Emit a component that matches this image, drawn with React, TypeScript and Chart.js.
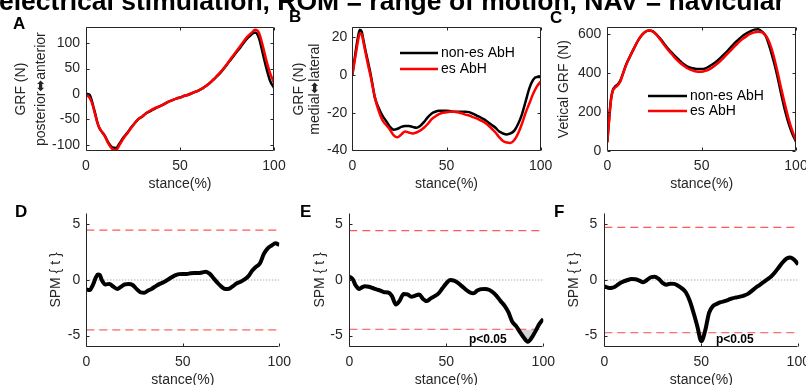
import React, { useEffect, useRef } from "react";
import { Chart, registerables } from "chart.js";

Chart.register(...registerables);

// ---------- data ----------
const STANCE = [0, 1, 2, 3, 4, 5, 6, 7, 8, 10, 12, 14, 16, 18, 20, 22, 24, 26, 28, 30, 32, 34, 36, 38, 40, 42, 44, 46, 48, 50, 52, 54, 56, 58, 60, 62, 64, 66, 68, 70, 72, 74, 76, 78, 80, 82, 84, 86, 88, 90, 92, 94, 96, 98, 100];

const SERIES_LABELS = ["non-es AbH", "es AbH"];

const A_NON_ES = [0, 0, -2, -12, -26, -40, -55, -66, -72, -82, -96, -105, -106, -96, -85, -76, -66, -57, -49, -44, -38, -34, -30, -26, -23, -19, -15, -12, -9, -7, -4, -2, 1, 4, 7, 11, 16, 22, 29, 36, 44, 53, 63, 72, 82, 91, 101, 110, 117, 121, 110, 80, 50, 25, 12];
const A_ES = [-2, -4, -8, -16, -28, -42, -56, -66, -72, -83, -98, -108, -110, -99, -87, -77, -67, -57, -49, -44, -38, -33, -29, -26, -23, -19, -15, -12, -9, -7, -4, -2, 1, 4, 7, 11, 16, 22, 29, 37, 45, 54, 64, 74, 84, 94, 104, 113, 120, 126, 120, 95, 65, 40, 22];

const B_NON_ES = [0, 7, 14, 20, 24, 23, 18, 13, 8.5, -1, -12, -17.5, -21.5, -24.5, -27.5, -29, -28.5, -27.5, -27, -27, -27.5, -28, -27, -25, -22.5, -20.5, -19.5, -19, -19, -19, -19.2, -19.5, -19.5, -19.5, -19.5, -19.7, -20.5, -21.5, -22.5, -23.5, -25, -26.5, -28, -30, -31, -31.5, -31, -29.5, -26, -21, -14, -7, -2.5, -1, -1];
const B_ES = [0, 6, 12, 18, 22, 21.5, 17, 12, 7, -2, -12, -19, -24, -26.5, -29, -32, -33, -31.5, -30, -30.5, -31, -30.5, -29.5, -28, -26, -23.5, -22, -20.8, -20, -19.8, -19.5, -19.5, -19.8, -20.3, -21, -21.5, -22.3, -23, -24, -25, -26.5, -28.5, -30.5, -33, -35, -35.8, -36, -34.5, -31, -26, -20, -15, -10, -6, -3.5];

const C_NON_ES = [45, 170, 270, 315, 330, 338, 348, 365, 390, 445, 486, 525, 563, 593, 612, 620, 616, 600, 578, 553, 528, 507, 487, 468, 450, 437, 429, 424, 421, 421, 425, 435, 447, 461, 479, 498, 518, 539, 560, 577, 594, 606, 616, 624, 626, 614, 590, 536, 468, 390, 300, 215, 145, 90, 48];
const C_ES = [45, 165, 265, 310, 325, 333, 343, 360, 388, 443, 486, 525, 563, 593, 612, 619, 615, 598, 574, 547, 522, 500, 478, 459, 442, 428, 418, 411, 408, 408, 412, 420, 432, 447, 464, 483, 503, 523, 543, 562, 578, 592, 603, 610, 613, 610, 594, 556, 495, 415, 328, 245, 168, 105, 55];

const D_SPM = [-0.85, -0.9, -0.88, -0.6, -0.2, 0.25, 0.5, 0.45, 0.0, -0.4, -0.35, -0.6, -0.8, -0.6, -0.4, -0.35, -0.45, -0.8, -1.1, -1.15, -0.95, -0.78, -0.55, -0.35, -0.2, 0.0, 0.22, 0.42, 0.53, 0.55, 0.55, 0.6, 0.62, 0.62, 0.68, 0.75, 0.55, 0.15, -0.25, -0.6, -0.8, -0.78, -0.55, -0.3, -0.15, 0.05, 0.35, 0.85, 1.2, 1.5, 2.35, 2.85, 3.1, 3.3, 3.15];
const E_SPM = [0.3, 0.2, 0.0, -0.4, -0.65, -0.8, -0.72, -0.62, -0.57, -0.6, -0.72, -0.85, -0.95, -1.1, -1.12, -1.45, -2.2, -1.85, -1.25, -1.3, -1.5, -1.4, -1.3, -1.7, -1.9, -1.65, -1.45, -1.2, -0.75, -0.3, 0.0, -0.05, -0.25, -0.55, -0.85, -1.1, -1.2, -0.95, -0.82, -0.8, -0.88, -1.1, -1.45, -1.9, -2.3, -2.9, -3.75, -4.15, -4.7, -5.2, -5.55, -5.2, -4.6, -3.95, -3.5];
const F_SPM = [-0.57, -0.65, -0.7, -0.72, -0.7, -0.65, -0.55, -0.42, -0.3, -0.12, 0.0, 0.08, 0.07, -0.05, -0.2, 0.0, 0.25, 0.3, 0.1, -0.25, -0.42, -0.33, -0.35, -0.52, -0.75, -1.1, -1.85, -2.95, -4.2, -5.5, -4.55, -2.95, -2.35, -2.15, -2.0, -1.9, -1.78, -1.65, -1.57, -1.5, -1.4, -1.25, -0.98, -0.7, -0.45, -0.2, 0.05, 0.32, 0.7, 1.15, 1.6, 1.93, 2.03, 1.8, 1.4];

const X_TICKS = [0, 50, 100];
const A_Y_TICKS = [-100, -50, 0, 50, 100];
const B_Y_TICKS = [-40, -20, 0, 20];
const C_Y_TICKS = [0, 200, 400, 600];
const SPM_Y_TICKS = [-5, 0, 5];

const D_THRESHOLD = 4.48;
const E_THRESHOLD = 4.45;
const F_THRESHOLD = 4.73;

const FIGURE_TITLE = "electrical stimulation, ROM = range of motion, NAV = navicular";
const SIG_TEXT = "p<0.05";

// ---------- style ----------
const W = 806;
const H = 400;
const FONT = "'Liberation Sans', Arial, Helvetica, 'DejaVu Sans', sans-serif";
const TEXT = "#262626";
const RED = "#ff0000";
const THR_COLOR = "rgba(255,70,70,0.9)";

type Panel = {
  key: string;
  series: number[][];
  yMin: number;
  yMax: number;
  yTicks: number[];
  yTitle: string | string[];
  titleLH: number;
  area: [number, number, number, number];
  yw: number;
  xh: number;
  yPad: number;
  xPad: number;
  box: boolean;
  legend?: { x: number; y: number; len: number; gap: number };
  threshold?: number;
  sig?: { x: number; y: number };
};

const PANELS: Panel[] = [
  { key: "A", series: [A_NON_ES, A_ES], yMin: -112, yMax: 131, yTicks: A_Y_TICKS, yTitle: ["GRF (N)", "posterior\u2B0Canterior"], titleLH: 1.39, area: [86, 27.3, 274, 151], yw: 74.5, xh: 41.4, yPad: 6, xPad: 7, box: true },
  { key: "B", series: [B_NON_ES, B_ES], yMin: -40.3, yMax: 25.3, yTicks: B_Y_TICKS, yTitle: ["GRF (N)", "medial\u2B0Clateral"], titleLH: 1.16, area: [352.3, 27.3, 540.7, 151], yw: 61.7, xh: 41.4, yPad: 5, xPad: 7, box: true, legend: { x: 400, y: 53, len: 38, gap: 16 } },
  { key: "C", series: [C_NON_ES, C_ES], yMin: 0, yMax: 636, yTicks: C_Y_TICKS, yTitle: "Vetical GRF (N)", titleLH: 1.2, area: [607.3, 27.3, 796, 151], yw: 51.7, xh: 41.4, yPad: 6, xPad: 7, box: true, legend: { x: 648, y: 96, len: 39, gap: 15 } },
  { key: "D", series: [D_SPM], yMin: -6, yMax: 6, yTicks: SPM_Y_TICKS, yTitle: "SPM { t }", titleLH: 1.2, area: [86.3, 213.3, 279.3, 346.7], yw: 39, xh: 42.2, yPad: 6, xPad: 7, box: false, threshold: D_THRESHOLD },
  { key: "E", series: [E_SPM], yMin: -6, yMax: 6, yTicks: SPM_Y_TICKS, yTitle: "SPM { t }", titleLH: 1.2, area: [349.3, 213.3, 543.3, 346.7], yw: 37.7, xh: 42.2, yPad: 6.5, xPad: 7, box: false, threshold: E_THRESHOLD, sig: { x: 469, y: 340 } },
  { key: "F", series: [F_SPM], yMin: -6, yMax: 6, yTicks: SPM_Y_TICKS, yTitle: "SPM { t }", titleLH: 1.2, area: [604.3, 213.3, 798.3, 346.7], yw: 38.4, xh: 42.2, yPad: 7, xPad: 7, box: false, threshold: F_THRESHOLD, sig: { x: 716, y: 340 } },
];

const LETTERS = [
  { t: "A", x: 13, base: 29 },
  { t: "B", x: 289, base: 22 },
  { t: "C", x: 550, base: 23.5 },
  { t: "D", x: 15, base: 217 },
  { t: "E", x: 300, base: 217 },
  { t: "F", x: 554, base: 217 },
];

function toPoints(arr: number[]) {
  return STANCE.map((x, i) => ({ x, y: arr[i] }));
}

function decorPlugin(p: Panel) {
  return {
    id: "decor" + p.key,
    afterDraw(chart: any) {
      const { ctx, chartArea: a, scales } = chart;
      const xs = scales.x;
      const ys = scales.y;
      ctx.save();
      ctx.strokeStyle = TEXT;
      ctx.lineWidth = 1;
      const L = Math.round(a.left) + 0.5;
      const R = Math.round(a.right) - 0.5;
      const T = Math.round(a.top) + 0.5;
      const B = Math.round(a.bottom) - 0.5;
      ctx.beginPath();
      if (p.box) {
        ctx.rect(L, T, R - L, B - T);
      } else {
        ctx.moveTo(L, T);
        ctx.lineTo(L, B);
        ctx.lineTo(R, B);
      }
      ctx.stroke();
      // inward ticks
      const tl = 3;
      ctx.beginPath();
      X_TICKS.forEach((v) => {
        const px = Math.round(xs.getPixelForValue(v)) + 0.5;
        ctx.moveTo(px, B);
        ctx.lineTo(px, B - tl);
        if (p.box) {
          ctx.moveTo(px, T);
          ctx.lineTo(px, T + tl);
        }
      });
      p.yTicks.forEach((v) => {
        const py = Math.round(ys.getPixelForValue(v)) + 0.5;
        ctx.moveTo(L, py);
        ctx.lineTo(L + tl, py);
        if (p.box) {
          ctx.moveTo(R, py);
          ctx.lineTo(R - tl, py);
        }
      });
      ctx.stroke();
      // legend
      if (p.legend) {
        const lg = p.legend;
        const colors = ["#000000", RED];
        SERIES_LABELS.forEach((lab, i) => {
          const y = lg.y + i * lg.gap;
          ctx.strokeStyle = colors[i];
          ctx.lineWidth = 2.5;
          ctx.beginPath();
          ctx.moveTo(lg.x, y);
          ctx.lineTo(lg.x + lg.len, y);
          ctx.stroke();
          ctx.fillStyle = "#000";
          ctx.font = `14px ${FONT}`;
          ctx.textBaseline = "middle";
          ctx.textAlign = "left";
          ctx.fillText(lab, lg.x + lg.len + 3, y + 0.5);
        });
      }
      if (p.sig) {
        ctx.fillStyle = "#000";
        ctx.font = `bold 12px ${FONT}`;
        ctx.textBaseline = "middle";
        ctx.textAlign = "left";
        ctx.fillText(SIG_TEXT, p.sig.x, p.sig.y);
      }
      ctx.restore();
    },
  };
}

function buildChart(canvas: HTMLCanvasElement, p: Panel) {
  const datasets: any[] = [];
  if (p.series.length === 2) {
    datasets.push({ label: SERIES_LABELS[1], data: toPoints(p.series[1]), borderColor: RED, borderWidth: 2.5 });
    datasets.push({ label: SERIES_LABELS[0], data: toPoints(p.series[0]), borderColor: "#000000", borderWidth: 2.5 });
  } else {
    const thr = p.threshold as number;
    datasets.push({
      label: "SPM",
      data: toPoints(p.series[0]),
      borderColor: "#000000",
      borderWidth: 4,
      fill: { target: { value: -thr }, above: "rgba(0,0,0,0)", below: "#d3d3d3" },
    });
    datasets.push({ label: "upper", data: [{ x: 0, y: thr }, { x: 100, y: thr }], borderColor: THR_COLOR, borderWidth: 1.2, borderDash: [8, 5], cubicInterpolationMode: "default", tension: 0 });
    datasets.push({ label: "lower", data: [{ x: 0, y: -thr }, { x: 100, y: -thr }], borderColor: THR_COLOR, borderWidth: 1.2, borderDash: [8, 5], cubicInterpolationMode: "default", tension: 0 });
    datasets.push({ label: "zero", data: [{ x: 0, y: 0 }, { x: 100, y: 0 }], borderColor: "#8c8c8c", borderWidth: 1, borderDash: [1, 2], cubicInterpolationMode: "default", tension: 0 });
  }
  datasets.forEach((d) => {
    d.pointRadius = 0;
    d.pointHoverRadius = 0;
    if (!d.cubicInterpolationMode) d.cubicInterpolationMode = "monotone";
    if (d.fill === undefined) d.fill = false;
  });

  const tickFont = { size: 14, family: FONT };
  return new Chart(canvas, {
    type: "line",
    data: { datasets },
    options: {
      animation: false,
      responsive: false,
      maintainAspectRatio: false,
      events: [],
      layout: {
        padding: {
          left: p.area[0] - p.yw,
          top: p.area[1],
          right: W - p.area[2],
          bottom: H - p.area[3] - p.xh,
        },
      },
      plugins: { legend: { display: false }, tooltip: { enabled: false }, title: { display: false } },
      elements: { line: { borderJoinStyle: "round", borderCapStyle: "butt" } },
      scales: {
        x: {
          type: "linear",
          min: 0,
          max: 100,
          grid: { display: false, drawTicks: false },
          border: { display: false },
          afterBuildTicks: (s: any) => {
            s.ticks = X_TICKS.map((v) => ({ value: v }));
          },
          afterFit: (s: any) => {
            s.height = p.xh;
            s.paddingLeft = 0;
            s.paddingRight = 0;
            s.paddingTop = 0;
            s.paddingBottom = 0;
          },
          ticks: { padding: p.xPad, color: TEXT, font: tickFont, maxRotation: 0, minRotation: 0, autoSkip: false },
          title: { display: true, text: "stance(%)", color: TEXT, font: { size: 14, family: FONT, lineHeight: 1.2 }, padding: 0 },
        },
        y: {
          type: "linear",
          min: p.yMin,
          max: p.yMax,
          grid: { display: false, drawTicks: false },
          border: { display: false },
          afterBuildTicks: (s: any) => {
            s.ticks = p.yTicks.map((v) => ({ value: v }));
          },
          afterFit: (s: any) => {
            s.width = p.yw;
            s.paddingLeft = 0;
            s.paddingRight = 0;
            s.paddingTop = 0;
            s.paddingBottom = 0;
          },
          ticks: { padding: p.yPad, color: TEXT, font: tickFont, autoSkip: false },
          title: { display: true, text: p.yTitle, color: TEXT, font: { size: 14, family: FONT, lineHeight: p.titleLH }, padding: 0 },
        },
      },
    } as any,
    plugins: [decorPlugin(p)],
  });
}

export default function App() {
  const refs = useRef<(HTMLCanvasElement | null)[]>([]);
  useEffect(() => {
    const charts = PANELS.map((p, i) => buildChart(refs.current[i] as HTMLCanvasElement, p));
    return () => charts.forEach((c) => c.destroy());
  }, []);

  return (
    <div style={{ position: "absolute", left: 0, top: 0, width: 806, height: 385, overflow: "hidden", background: "#ffffff" }}>
      {PANELS.map((p, i) => (
        <canvas
          key={p.key}
          ref={(el) => {
            refs.current[i] = el;
          }}
          width={W}
          height={H}
          style={{ position: "absolute", left: 0, top: 0, width: W, height: H }}
        />
      ))}
      <div
        style={{
          position: "absolute",
          left: -1,
          top: -12,
          whiteSpace: "nowrap",
          font: `bold 26.5px ${FONT}`,
          lineHeight: "26.5px",
          color: "#000",
        }}
      >
        {FIGURE_TITLE}
      </div>
      {LETTERS.map((l) => (
        <div
          key={l.t}
          style={{
            position: "absolute",
            left: l.x,
            top: l.base - 14.4,
            font: `bold 17px ${FONT}`,
            lineHeight: "17px",
            color: "#000",
          }}
        >
          {l.t}
        </div>
      ))}
    </div>
  );
}
